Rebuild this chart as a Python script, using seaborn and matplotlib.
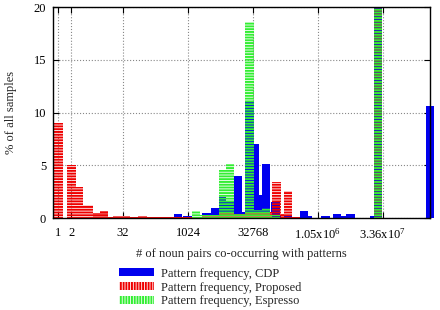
import numpy as np
import pandas as pd
import seaborn as sns
import matplotlib.pyplot as plt
from matplotlib.patches import Patch

# bins are log2(# of noun pairs), values are % of all samples
cdp_edges = [8.94, 9.51, 9.63, 10.28, 11.05, 11.76, 12.38, 12.97, 13.56, 14.13, 14.38,
             15.08, 15.46, 15.72, 16.36, 16.44, 17.08, 17.41, 18.06, 18.62, 19.26,
             19.57, 20.29, 20.93, 21.19, 21.83, 22.22, 22.86, 24.01, 24.32, 24.99,
             28.38, 28.95]
cdp_pct = [0.4, 0, 0.25, 0.1, 0.5, 0.95, 2.0, 1.6, 4.0, 0.6, 11.0,
           7.0, 2.2, 5.1, 0.3, 1.55, 0.3, 0.3, 0.1, 0.72,
           0.2, 0.05, 0.2, 0.05, 0.38, 0.2, 0.38, 0.03, 0.2, 22.0,
           0, 10.6]

prop_edges = [-0.39, 0.34, 0.69, 1.36, 1.93, 2.65, 3.21, 3.85, 4.21, 4.83, 5.52,
              6.14, 6.83, 7.45, 8.07, 8.68, 9.38, 10.28, 11.05, 11.76, 12.38,
              13.56, 14.38, 15.08, 16.36, 16.49, 17.16, 17.41, 18.06, 18.62,
              24.32, 24.99]
prop_pct = [9.0, 0, 5.0, 3.0, 1.3, 0.5, 0.65, 0.1, 0.2, 0.2,
            0.15, 0.2, 0.15, 0.15, 0.15, 0.1, 0.1, 0.15, 0.2, 0.3,
            0.6, 0.4, 0.5, 0.6, 0.6, 3.4, 0.45, 2.6, 0.1,
            0, 24.0]

esp_edges = [10.28, 10.92, 12.38, 12.97, 13.56, 14.38, 15.08, 15.72, 16.36, 17.08,
             24.32, 24.99]
esp_pct = [0.72, 0.3, 4.6, 5.1, 0.4, 18.6, 0.8, 1.0, 0.3, 0, 23.0]

tick_pos = [0, 1, 5, 10, 15, 20, 25]
tick_labels = ['1', '2', '32', '1024', '32768', '1.05x10$^6$', '3.36x10$^7$']

sns.set_style('ticks')
plt.rcParams['font.family'] = ['Liberation Serif', 'DejaVu Serif']
plt.rcParams['mathtext.fontset'] = 'custom'
plt.rcParams['mathtext.rm'] = 'Liberation Serif'
plt.rcParams['mathtext.default'] = 'regular'
plt.rcParams['hatch.linewidth'] = 1.4
plt.rcParams['font.size'] = 9

fig = plt.figure(figsize=(4.4, 3.1), dpi=100)
ax = fig.add_axes([0.1205, 0.2958, 0.8565, 0.6816])

blue = '#0000ee'
red = '#ee0000'
green = '#33ee33'

sns.histplot(x=cdp_edges[:-1], weights=cdp_pct, bins=cdp_edges, ax=ax,
             color=blue, alpha=1, linewidth=0, edgecolor=blue, facecolor=blue)
sns.histplot(x=prop_edges[:-1], weights=prop_pct, bins=prop_edges, ax=ax,
             facecolor='none', edgecolor=red, hatch='------', linewidth=0, alpha=1)
sns.histplot(x=esp_edges[:-1], weights=esp_pct, bins=esp_edges, ax=ax,
             facecolor='none', edgecolor=green, hatch='------', linewidth=0, alpha=1)

# thin red floor under the low Proposed boxes, as the pattern fill shows it
for bar in ax.containers[1]:
    if 0 < bar.get_height() < 0.7:
        bar.set_facecolor('#f08080')

# last blue box sits on the right border, gnuplot does not clip it
ax.containers[0][-1].set_clip_on(False)

ax.set_xlim(-0.4, 28.65)
ax.set_ylim(0, 20)
ax.set_xticks(tick_pos)
ax.set_xticklabels(tick_labels)
ax.set_yticks([0, 5, 10, 15, 20])
ax.tick_params(direction='in', length=4, width=0.8, top=True, right=True,
               labelsize=9, colors='black')
ax.tick_params(axis='x', pad=6)
ax.tick_params(axis='y', pad=5)
ax.grid(True, linestyle=':', color='#888888', linewidth=0.8)
ax.set_axisbelow(True)
for s in ax.spines.values():
    s.set_color('black')
    s.set_linewidth(1.0)

ax.set_xlabel('# of noun pairs co-occurring with patterns', fontsize=9, labelpad=5)
ax.set_ylabel('% of all samples', fontsize=9, labelpad=12)

handles = [Patch(facecolor=blue, edgecolor=blue, linewidth=0),
           Patch(facecolor='none', edgecolor=red, hatch='||||||', linewidth=0),
           Patch(facecolor='none', edgecolor=green, hatch='||||||', linewidth=0)]
labels = ['Pattern frequency, CDP', 'Pattern frequency, Proposed',
          'Pattern frequency, Espresso']
fig.legend(handles, labels, loc='upper left', bbox_to_anchor=(0.27, 0.136),
           frameon=False, fontsize=9, handlelength=2.8, handleheight=0.6,
           labelspacing=0.14, handletextpad=0.6, borderpad=0, borderaxespad=0)

plt.savefig('out.png', dpi=100)
